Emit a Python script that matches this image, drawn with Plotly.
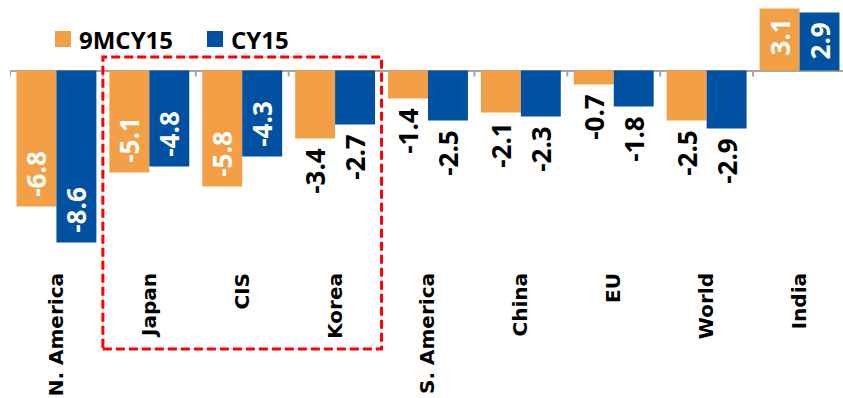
import plotly.graph_objects as go

# ---- data -------------------------------------------------------------
categories = ["N. America", "Japan", "CIS", "Korea", "S. America",
              "China", "EU", "World", "India"]
series_names = ["9MCY15", "CY15"]
values_9mcy15 = [-6.8, -5.1, -5.8, -3.4, -1.4, -2.1, -0.7, -2.5, 3.1]
values_cy15 = [-8.6, -4.8, -4.3, -2.7, -2.5, -2.3, -1.8, -2.9, 2.9]
label_inside_9mcy15 = [True, True, True, False, False, False, False, False, True]
label_inside_cy15 = [True, True, True, False, False, False, False, False, True]
highlighted = ["Japan", "CIS", "Korea"]
title_text = "Vehicle production (% YoY chg)"

# ---- styling ----------------------------------------------------------
ORANGE = "#F39F45"
BLUE = "#0051A1"
AXIS_GREY = "#A6A6A6"
RED = "#FF0000"
W, H = 843, 398
M_L, M_R, M_T, M_B = 10, 0, 0, 130
PLOT_W, PLOT_H = W - M_L - M_R, H - M_T - M_B
X_MIN, X_MAX = -0.5, 8.468
Y_MIN, Y_MAX = -9.875, 3.525
NBSP = "\u00a0"


def px_x(p):
    """Horizontal page pixel -> paper coordinate."""
    return (p - M_L) / PLOT_W


def px_y(p):
    """Vertical page pixel (from top) -> paper coordinate."""
    return (H - M_B - p) / PLOT_H


def x_to_paper(v):
    return (v - X_MIN) / (X_MAX - X_MIN)


def labels(values, inside):
    # pad the label away from the bar end with a non-breaking space
    out = []
    for v, ins in zip(values, inside):
        s = f"{v:.1f}"
        out.append(NBSP + s if (ins and v < 0) else s + NBSP)
    return out


xs = list(range(len(categories)))
fig = go.Figure()
for name, vals, inside, color in [
    (series_names[0], values_9mcy15, label_inside_9mcy15, ORANGE),
    (series_names[1], values_cy15, label_inside_cy15, BLUE),
]:
    fig.add_trace(go.Bar(
        x=xs, y=vals, name=name,
        marker=dict(color=color, line=dict(width=0)),
        text=labels(vals, inside),
        texttemplate="%{text}",
        textposition=["inside" if i else "outside" for i in inside],
        insidetextanchor="end",
        textangle=-90,
        insidetextfont=dict(family="Open Sans", size=26, color="white", weight="bold"),
        outsidetextfont=dict(family="Open Sans", size=26, color="black", weight="bold"),
        constraintext="none",
        cliponaxis=False,
        hoverinfo="skip",
    ))

shapes = []
# tick marks hanging from the zero line at category boundaries
for b in [i - 0.5 for i in range(len(categories) + 1)]:
    shapes.append(dict(type="line", xref="x", yref="y", x0=b, x1=b, y0=0, y1=-0.3,
                       line=dict(color=AXIS_GREY, width=2)))

# dashed box around the highlighted group
hi = [categories.index(c) for c in highlighted]
shapes.append(dict(type="rect", xref="paper", yref="paper",
                   x0=x_to_paper(min(hi) - 0.5), x1=x_to_paper(max(hi) + 0.5),
                   y0=px_y(349), y1=px_y(57),
                   line=dict(color=RED, width=3, dash="9px,4px"),
                   fillcolor="rgba(0,0,0,0)"))

# legend swatches
annotations = []
for (sx, tx), name, color in [((55, 77), series_names[0], ORANGE),
                              ((207, 229), series_names[1], BLUE)]:
    shapes.append(dict(type="rect", xref="paper", yref="paper",
                       x0=px_x(sx), x1=px_x(sx + 16), y0=px_y(47), y1=px_y(31),
                       fillcolor=color, line=dict(width=0)))
    annotations.append(dict(xref="paper", yref="paper", x=px_x(tx), y=px_y(39),
                            xanchor="left", yanchor="middle", showarrow=False,
                            text=name,
                            font=dict(family="Open Sans", size=24, color="black",
                                      weight="bold")))

# chart title, sitting mostly above the top edge of the page
annotations.append(dict(xref="paper", yref="paper", x=px_x(692), y=px_y(2),
                        xanchor="right", yanchor="bottom", showarrow=False,
                        text=title_text,
                        font=dict(family="Open Sans", size=24, color="black",
                                  weight="bold")))

fig.update_layout(
    width=W, height=H,
    margin=dict(l=M_L, r=M_R, t=M_T, b=M_B, pad=0),
    paper_bgcolor="white", plot_bgcolor="white",
    barmode="group", bargap=0.14, bargroupgap=0.0,
    showlegend=False,
    shapes=shapes,
    annotations=annotations,
    xaxis=dict(range=[X_MIN, X_MAX], tickmode="array", tickvals=xs,
               ticktext=categories, tickangle=-90, showgrid=False,
               showline=False, zeroline=False, ticks="",
               tickfont=dict(family="DejaVu Sans", size=20, color="black",
                             weight="bold")),
    yaxis=dict(range=[Y_MIN, Y_MAX], showgrid=False, showticklabels=False,
               zeroline=True, zerolinecolor=AXIS_GREY, zerolinewidth=2,
               showline=False, ticks=""),
)

fig.write_html("out.html")
